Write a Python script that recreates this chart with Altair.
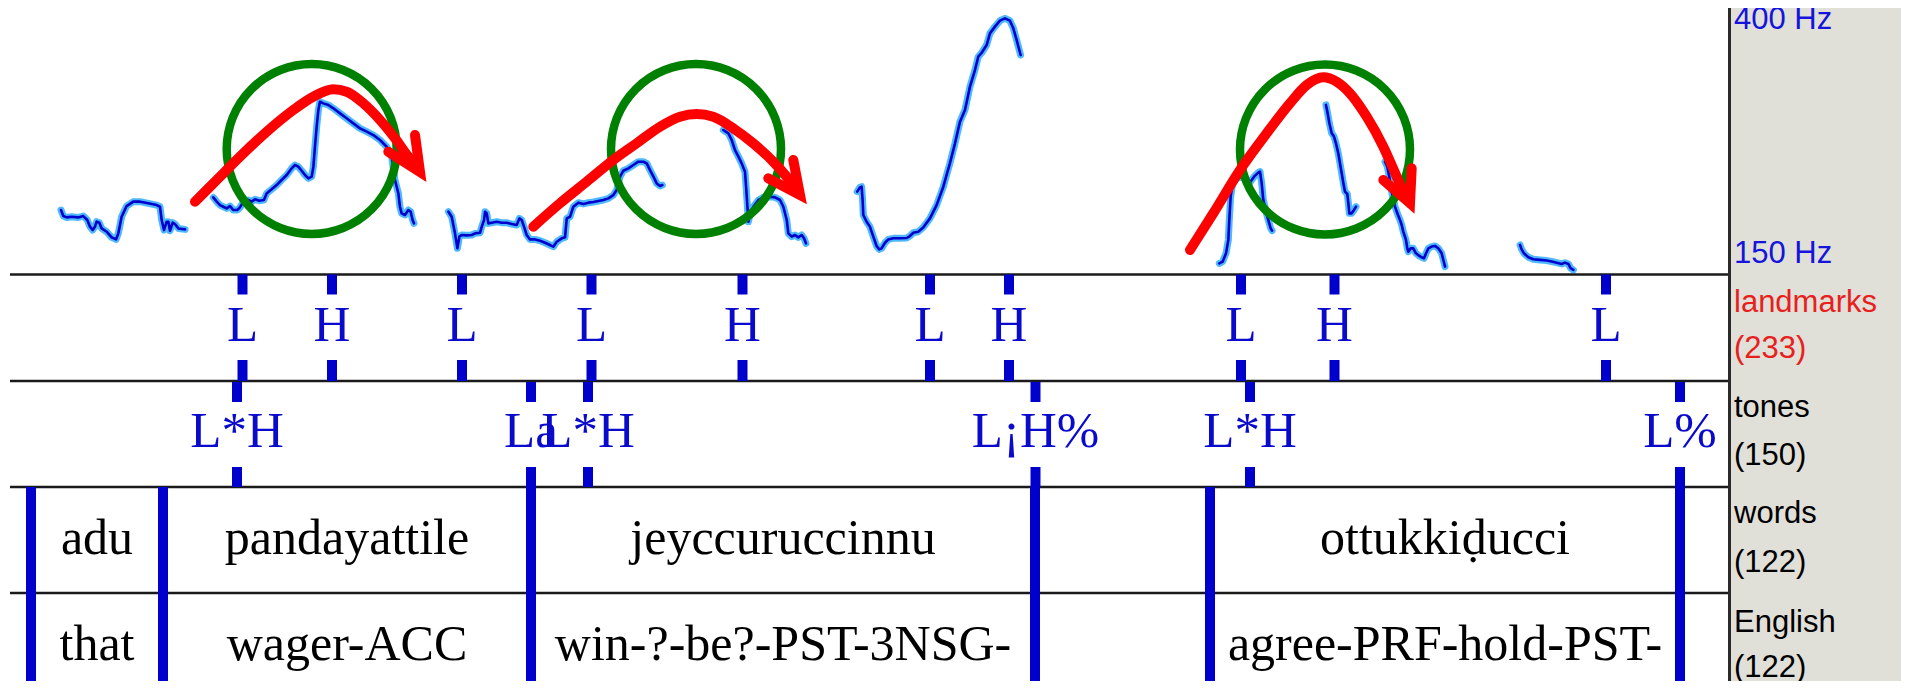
import altair as alt
import pandas as pd

# ---------------- pitch track: time (display units) and F0 (Hz) ----------------
seg1_t = [50.1, 52.0, 54.8, 58.9, 64.3, 68.4, 71.7, 73.9, 76.1, 78.0, 79.4, 81.6, 83.5, 87.6, 91.7, 95.3, 97.2,
          99.9, 104.0, 109.5, 115.0, 121.8, 128.7, 131.4, 132.8, 134.7, 136.9, 138.3, 139.6, 141.8, 143.7, 146.5, 152.0]
seg1_hz = [209.2, 203.7, 202.5, 203.1, 202.5, 203.7, 200.1, 194.1, 191.0, 194.1, 198.6, 197.7, 192.5, 189.5, 184.4,
           182.5, 188.0, 203.1, 212.8, 216.8, 216.8, 215.3, 213.7, 212.2, 200.1, 191.0, 198.6, 198.6, 190.4, 197.7,
           196.5, 192.5, 191.6]

seg2_t = [175.2, 178.0, 180.7, 183.4, 186.2, 188.9, 191.6, 194.9, 197.1, 199.9, 204.0, 206.7, 209.4, 213.0, 216.8,
          219.0, 223.1, 227.2, 231.3, 235.5, 239.6, 242.3, 245.0, 247.8, 250.5, 253.3, 256.0, 257.4, 258.7, 260.1,
          261.5, 262.8, 265.6, 269.7, 273.8, 279.3, 284.7, 290.2, 295.7, 301.2, 306.6, 312.1, 317.6, 321.7, 324.4,
          327.2, 328.5, 329.9, 332.6, 335.4, 337.3, 338.9, 340.0]
seg2_hz = [220.7, 216.8, 213.7, 212.2, 210.7, 212.8, 209.2, 209.2, 211.6, 216.8, 218.3, 216.8, 218.9, 217.7, 218.3,
           224.3, 228.0, 231.9, 236.5, 241.0, 247.1, 250.1, 248.6, 244.9, 241.0, 238.0, 239.5, 248.6, 266.7, 284.9,
           300.1, 307.6, 306.1, 304.6, 301.6, 297.0, 292.5, 287.9, 283.4, 280.4, 277.3, 272.8, 266.7, 257.7, 236.5,
           224.3, 212.2, 206.2, 204.7, 209.2, 207.7, 200.1, 197.1]

seg3_t = [368.3, 371.0, 373.7, 375.7, 377.3, 379.2, 383.3, 387.4, 390.2, 394.3, 395.7, 397.6, 398.4, 399.8, 401.1,
          403.9, 408.0, 412.1, 416.2, 420.3, 424.4, 426.6, 428.5, 430.4, 432.6, 435.3, 439.5, 443.6, 447.7, 451.8,
          454.5, 457.3, 461.4, 464.1, 465.5, 468.2, 470.9, 475.0, 479.2, 483.3, 487.4, 491.5, 495.6, 499.7, 503.8,
          506.5, 509.3, 512.0, 516.1, 520.2, 524.3, 528.4, 531.2, 533.9, 536.7, 539.4, 542.1, 544.0]
seg3_hz = [207.7, 203.1, 188.0, 174.4, 185.0, 186.5, 186.2, 186.5, 188.0, 188.6, 194.1, 200.1, 207.7, 206.2, 197.1,
           197.7, 198.6, 197.7, 197.7, 196.5, 195.6, 201.6, 200.1, 194.1, 186.5, 182.5, 182.5, 181.3, 179.5, 177.4,
           175.9, 180.4, 183.5, 184.4, 201.6, 203.1, 212.2, 215.9, 214.7, 215.9, 216.5, 217.4, 218.3, 219.8, 222.8,
           227.4, 239.5, 244.9, 247.1, 250.1, 253.1, 253.1, 251.6, 245.5, 239.5, 233.4, 231.0, 231.9]

seg4_t = [594.1, 598.3, 601.0, 603.7, 606.5, 609.2, 611.9, 612.8, 613.9, 614.7, 616.1, 618.8, 622.9, 627.0, 632.5,
          636.6, 640.7, 643.4, 646.2, 647.5, 650.3, 653.0, 655.7, 658.5, 660.4, 662.0]
seg4_hz = [281.9, 278.9, 272.8, 263.7, 257.7, 251.6, 244.0, 230.4, 212.2, 198.6, 206.2, 212.2, 218.3, 220.7, 221.3,
           220.7, 218.3, 212.2, 200.1, 188.0, 185.0, 186.5, 184.4, 186.5, 183.5, 178.9]

seg5_t = [704.1, 706.3, 707.7, 708.5, 709.1, 711.8, 714.5, 717.3, 720.0, 722.2, 724.1, 726.9, 729.6, 733.7, 739.2,
          744.7, 747.4, 750.1, 754.2, 758.3, 763.8, 769.3, 774.8, 780.2, 784.4, 788.5, 792.6, 796.7, 800.8, 803.5,
          806.3, 810.4, 813.1, 817.2, 821.3, 825.4, 829.5, 832.3, 835.0, 838.3]
seg5_hz = [225.9, 229.8, 230.4, 218.3, 204.7, 198.6, 194.1, 185.0, 176.5, 173.5, 174.4, 179.5, 182.5, 183.5, 183.5,
           183.8, 185.6, 188.6, 189.5, 193.4, 201.6, 213.7, 230.4, 251.6, 269.8, 289.5, 300.1, 321.3, 336.4, 348.5,
           352.1, 359.1, 369.7, 375.8, 381.2, 383.3, 381.2, 374.3, 363.7, 350.0]

seg6_t = [1001.5, 1004.2, 1007.0, 1008.9, 1009.7, 1010.8, 1012.5, 1015.7, 1019.9, 1024.0, 1027.2, 1030.0, 1033.5,
          1034.9, 1036.3, 1037.6, 1040.9, 1043.7, 1044.8]
seg6_hz = [160.8, 162.3, 169.9, 182.0, 200.2, 221.4, 233.5, 238.0, 239.5, 236.5, 235.0, 239.5, 243.2, 244.1, 233.5,
           218.4, 203.2, 192.6, 190.5]

seg7_t = [1089.1, 1090.2, 1091.9, 1093.8, 1095.7, 1097.3, 1099.2, 1100.6, 1102.0, 1103.4, 1104.7, 1106.6, 1107.5,
          1108.3, 1110.2, 1112.1, 1113.8]
seg7_hz = [304.7, 298.6, 288.0, 278.9, 275.9, 269.8, 260.7, 251.7, 242.6, 233.5, 226.0, 223.8, 215.3, 206.2, 206.2,
           209.3, 212.3]

seg8_t = [1137.6, 1139.5, 1141.1, 1142.2, 1143.9, 1145.8, 1147.7, 1149.9, 1151.3, 1152.6, 1154.8, 1155.9, 1156.7,
          1158.7, 1160.8, 1163.0, 1165.8, 1167.7, 1169.6, 1171.3, 1173.2, 1175.9, 1178.6, 1181.4, 1184.1, 1185.5, 1186.9]
seg8_hz = [253.2, 248.6, 239.5, 230.5, 221.4, 212.3, 206.2, 200.2, 195.6, 189.6, 182.0, 174.4, 171.4, 174.4, 174.4,
           169.9, 167.5, 166.3, 165.4, 169.9, 174.4, 176.0, 176.6, 174.4, 169.9, 163.8, 157.8]

seg9_t = [1248.5, 1249.8, 1251.7, 1255.3, 1259.4, 1264.9, 1270.4, 1274.5, 1278.6, 1282.7, 1285.4, 1288.2, 1290.1, 1292.3]
seg9_hz = [177.5, 173.5, 169.9, 166.3, 164.5, 163.9, 163.3, 162.4, 161.4, 160.2, 161.4, 160.2, 156.3, 154.8]

pitch_segments = [(seg1_t, seg1_hz), (seg2_t, seg2_hz), (seg3_t, seg3_hz), (seg4_t, seg4_hz), (seg5_t, seg5_hz),
                  (seg6_t, seg6_hz), (seg7_t, seg7_hz), (seg8_t, seg8_hz), (seg9_t, seg9_hz)]

# ---------------- annotations (layout px) ----------------
circle_x = [311.7, 696.0, 1325.0]
circle_y = [149.0, 149.0, 149.5]

arrow1_x = [195, 216.7, 240, 266.7, 293.3, 313.3, 333.3, 346.7, 363.3, 380, 395, 408.3, 418]
arrow1_y = [201.7, 180, 156.7, 131.7, 110, 96.7, 89.3, 91.7, 103.3, 120, 138.3, 156.7, 168]
head1_x = [415, 420, 388.3]
head1_y = [135, 172, 151.7]

arrow2_x = [533.3, 560, 586.7, 613.3, 636.7, 660, 680, 696.7, 713.3, 733.3, 753.3, 773.3, 786.7, 797]
arrow2_y = [226.7, 203.3, 181.7, 160, 143.3, 126.7, 116.7, 114, 116.7, 128.3, 143.3, 161.7, 176.7, 190]
head2_x = [793.3, 800, 768.3]
head2_y = [160, 195, 178.3]

arrow3_x = [1190, 1213.3, 1240, 1266.7, 1290, 1306.7, 1323.3, 1336.7, 1350, 1366.7, 1383.3, 1396.7, 1405]
arrow3_y = [250, 213.3, 170, 133.3, 103.3, 85, 77.3, 81.7, 93.3, 116.7, 146.7, 176.7, 195]
head3_x = [1411.7, 1410, 1383.3]
head3_y = [168.3, 203.3, 180]

# ---------------- tiers ----------------
tier_line_y = [274.5, 381, 487, 593]
tier_left, tier_right = 10, 1729

landmark_labels = ["L", "H", "L", "L", "H", "L", "H", "L", "H", "L"]
landmark_x = [242.5, 332, 462, 591.5, 742.5, 930, 1009, 1241, 1334.5, 1606]

tone_labels = ["L*H", "La", "L*H", "L¡H%", "L*H", "L%"]
tone_x = [237, 531, 588, 1035.5, 1250, 1680]

word_bounds = [31, 163, 531, 1035, 1210, 1680]
word_labels = ["adu", "pandayattile", "jeyccuruccinnu", "ottukkiḍucci"]
english_labels = ["that", "wager-ACC", "win-?-be?-PST-3NSG-", "agree-PRF-hold-PST-"]
word_x = [97, 347, 783, 1445]

side_text = ["400 Hz", "150 Hz", "landmarks", "(233)", "tones", "(150)", "words", "(122)", "English", "(122)"]
side_y = [29, 263, 312, 358, 417, 465, 523, 572, 632, 677]
side_color = ["#1414dc", "#1414dc", "#e8201c", "#e8201c", "#000000", "#000000", "#000000", "#000000",
              "#000000", "#000000"]

# ---------------- build tables ----------------
rows = []
for s, (ts, hs) in enumerate(pitch_segments):
    for i, (t, h) in enumerate(zip(ts, hs)):
        rows.append({"seg": s, "i": i, "t": t, "hz": h})
pitch_df = pd.DataFrame(rows)

circle_df = pd.DataFrame({"x": circle_x, "y": circle_y})

arr_rows, head_rows = [], []
for a, (xs, ys) in enumerate([(arrow1_x, arrow1_y), (arrow2_x, arrow2_y), (arrow3_x, arrow3_y)]):
    for i, (x, y) in enumerate(zip(xs, ys)):
        arr_rows.append({"a": a, "i": i, "x": x, "y": y})
for a, (xs, ys) in enumerate([(head1_x, head1_y), (head2_x, head2_y), (head3_x, head3_y)]):
    for i, (x, y) in enumerate(zip(xs, ys)):
        head_rows.append({"a": a, "i": i, "x": x, "y": y})
arrow_df = pd.DataFrame(arr_rows)
head_df = pd.DataFrame(head_rows)

hline_df = pd.DataFrame({"x": [tier_left] * 4, "x2": [tier_right] * 4, "y": tier_line_y})

dash_rows = []
top, bot = tier_line_y[0], tier_line_y[1]
for x in landmark_x:
    dash_rows.append({"x": x, "y": top, "y2": top + 20})
    dash_rows.append({"x": x, "y": bot - 21, "y2": bot})
top, bot = tier_line_y[1], tier_line_y[2]
for x in tone_x:
    dash_rows.append({"x": x, "y": top + 1, "y2": top + 21})
    dash_rows.append({"x": x, "y": bot - 20, "y2": bot})
for x in word_bounds:
    dash_rows.append({"x": x, "y": tier_line_y[2], "y2": 700})
dash_df = pd.DataFrame(dash_rows)

lm_df = pd.DataFrame({"x": landmark_x, "y": [341] * len(landmark_x), "label": landmark_labels})
tone_df = pd.DataFrame({"x": tone_x, "y": [447] * len(tone_x), "label": tone_labels})
word_df = pd.DataFrame({"x": word_x * 2, "y": [554] * 4 + [660] * 4, "label": word_labels + english_labels})
side_df = pd.DataFrame({"x": [1734] * len(side_text), "y": side_y, "label": side_text, "c": side_color})
panel_df = pd.DataFrame({"x": [1729], "x2": [1960], "y": [-20], "y2": [720]})
edge_df = pd.DataFrame({"x": [1729.5], "y": [-20], "y2": [720]})

# ---------------- scales ----------------
W, H = 1893, 673
T_DOM = [6.571, 1561.4]
X_DOM = [8, 1901]
Y_DOM = [8, 681]

def tx():
    return alt.X("t:Q", scale=alt.Scale(domain=T_DOM, nice=False, zero=False), axis=None)

def hy():
    return alt.Y("hz:Q", scale=alt.Scale(domain=[150, 400], range=[267.2, -8], nice=False, zero=False), axis=None)

def px(f="x"):
    return alt.X(f"{f}:Q", scale=alt.Scale(domain=X_DOM, nice=False, zero=False), axis=None)

def py(f="y"):
    return alt.Y(f"{f}:Q", scale=alt.Scale(domain=Y_DOM, reverse=True, nice=False, zero=False), axis=None)

# ---------------- layers ----------------
panel = alt.Chart(panel_df).mark_rect(color="#e0dfd8").encode(
    x=px(), x2=alt.X2("x2:Q"), y=py(), y2=alt.Y2("y2:Q"))
edge = alt.Chart(edge_df).mark_rule(color="#2a2a2a", strokeWidth=3).encode(
    x=px(), y=py(), y2=alt.Y2("y2:Q"))

glow = alt.Chart(pitch_df).mark_line(color="#4fb8ff", strokeWidth=7, strokeCap="round", strokeJoin="round").encode(
    x=tx(), y=hy(), detail="seg:N", order="i:Q")
core = alt.Chart(pitch_df).mark_line(color="#0000cc", strokeWidth=2.6, strokeCap="round", strokeJoin="round").encode(
    x=tx(), y=hy(), detail="seg:N", order="i:Q")

circles = alt.Chart(circle_df).mark_point(shape="circle", filled=False, size=28900, strokeWidth=8.5,
                                          color="#008000", opacity=1).encode(x=px(), y=py())

arrows = alt.Chart(arrow_df).mark_line(color="#ff0000", strokeWidth=10, strokeCap="round",
                                       interpolate="monotone").encode(
    x=px(), y=py(), detail="a:N", order="i:Q")
heads = alt.Chart(head_df).mark_line(color="#ff0000", strokeWidth=10, strokeCap="round",
                                     strokeJoin="miter").encode(
    x=px(), y=py(), detail="a:N", order="i:Q")

hlines = alt.Chart(hline_df).mark_rule(color="#1a1a1a", strokeWidth=2.5).encode(
    x=px(), x2=alt.X2("x2:Q"), y=py())

dashes = alt.Chart(dash_df).mark_rule(color="#0000cc", strokeWidth=10).encode(
    x=px(), y=py(), y2=alt.Y2("y2:Q"))

lm_text = alt.Chart(lm_df).mark_text(font="Liberation Serif", fontSize=51, color="#0a0acc",
                                     align="center", baseline="alphabetic").encode(
    x=px(), y=py(), text="label:N")
tone_text = alt.Chart(tone_df).mark_text(font="Liberation Serif", fontSize=51, color="#0a0acc",
                                         align="center", baseline="alphabetic").encode(
    x=px(), y=py(), text="label:N")
word_text = alt.Chart(word_df).mark_text(font="Liberation Serif", fontSize=50, color="#000000",
                                         align="center", baseline="alphabetic").encode(
    x=px(), y=py(), text="label:N")
side = alt.Chart(side_df).mark_text(font="Liberation Sans", fontSize=31, align="left",
                                    baseline="alphabetic").encode(
    x=px(), y=py(), text="label:N", color=alt.Color("c:N", scale=None))

chart = alt.layer(
    glow, core, circles, arrows, heads, hlines, dashes, lm_text, tone_text, word_text,
    panel, edge, side
).resolve_scale(x="independent", y="independent").properties(
    width=W, height=H, padding=0, autosize="none", background="white"
).configure_view(stroke=None)

chart.save("out.html", embed_options={"renderer": "svg", "actions": False})
